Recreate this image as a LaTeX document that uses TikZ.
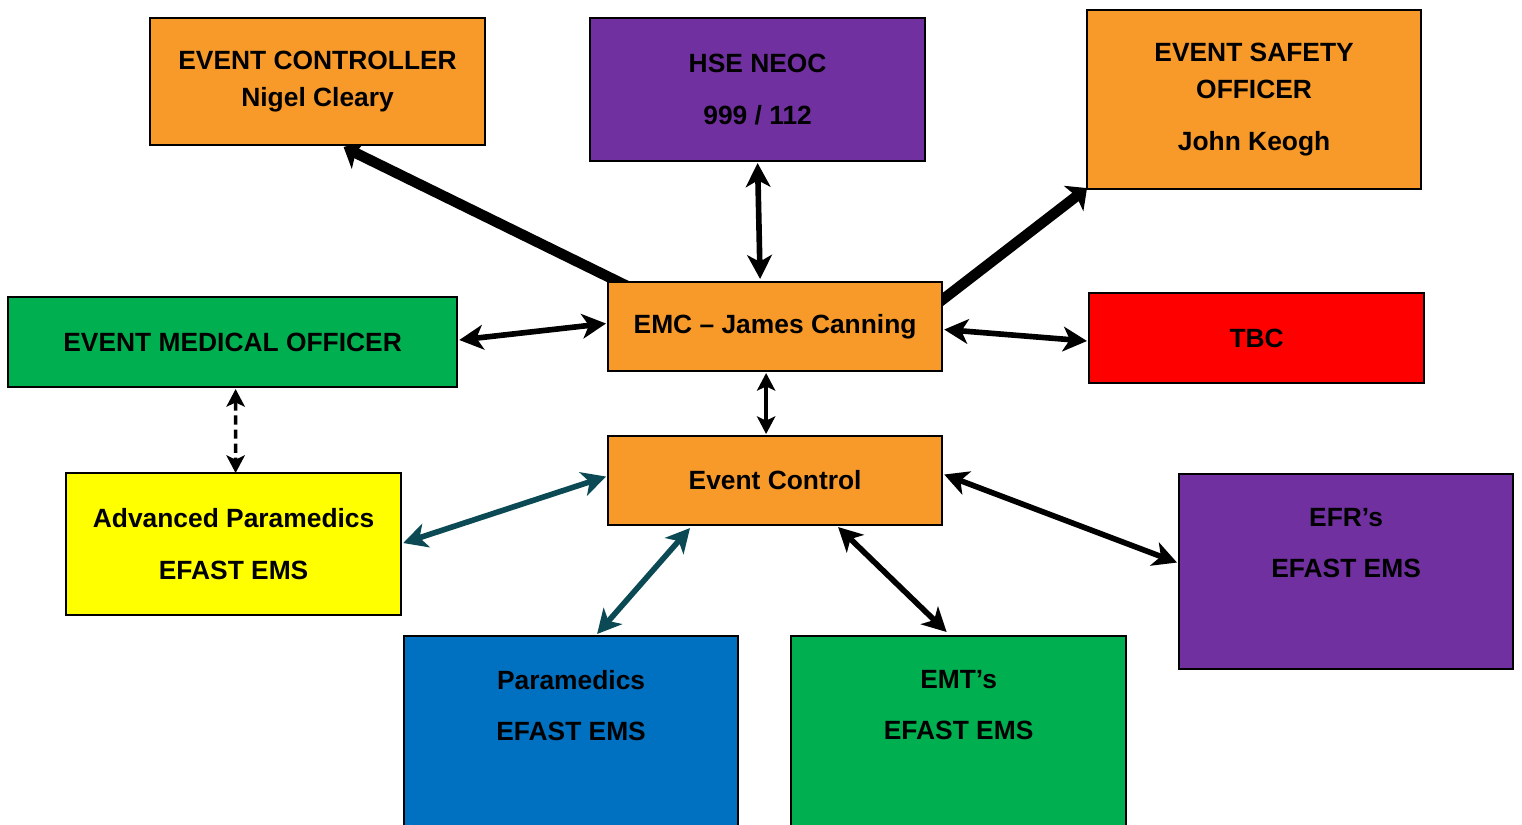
\documentclass[tikz,border=0pt]{standalone}
\usepackage{fontspec}
\setmainfont{Liberation Sans}
\usetikzlibrary{arrows.meta,positioning,calc,backgrounds}

\definecolor{evorange}{HTML}{F79A2A}
\definecolor{evpurple}{HTML}{7030A0}
\definecolor{evgreen}{HTML}{00B050}
\definecolor{evblue}{HTML}{0070C0}
\definecolor{evred}{HTML}{FF0000}
\definecolor{evyellow}{HTML}{FFFF00}
\definecolor{evteal}{HTML}{0B4A55}

\begin{document}
\begin{tikzpicture}[
    x=0.01cm, y=-0.01cm,                  % one unit = one pixel of the sketch
    box/.style={
        rectangle, draw=black, line width=0.6pt,
        inner sep=0pt, outer sep=0pt,
        anchor=north west,
        minimum width=3.35cm,
        minimum height=0.9cm,
        align=center,
        font=\fontsize{7.5}{10.5}\selectfont\bfseries
    },
    boxtext/.style={inner sep=0pt, align=center, font=\fontsize{7.5}{10.5}\selectfont\bfseries},
    heavy/.style={-{Stealth[length=4.8pt,width=9pt,inset=1pt]}, line width=3pt},
    link/.style={{Stealth[length=6.8pt,width=7pt,inset=1.9pt]}-{Stealth[length=6.8pt,width=7pt,inset=1.9pt]}, line width=1.6pt},
    thinlink/.style={{Stealth[length=5pt,width=5.2pt,inset=1.2pt]}-{Stealth[length=5pt,width=5.2pt,inset=1.2pt]}, line width=1.05pt}
]
\useasboundingbox (0,0) rectangle (1522,825);

% --- TOP ROW ---
\node[box, fill=evorange, minimum height=1.27cm] (ec) at (150,18) {EVENT CONTROLLER\\Nigel Cleary};
\node[box, fill=evpurple, minimum height=1.43cm] (hse) at (590,18) {HSE NEOC\\[4.2pt]999 / 112};
\node[box, fill=evorange, minimum width=3.34cm, minimum height=1.79cm] (eso) at (1087,10) {EVENT SAFETY\\OFFICER\\[4.2pt]John Keogh};

% --- MIDDLE ROW ---
\node[box, fill=evgreen, minimum width=4.49cm] (emo) at (8,297) {EVENT MEDICAL OFFICER};
\node[box, fill=evorange, minimum width=3.34cm, minimum height=0.89cm] (emc) at (608,282) {EMC – James Canning};
\node[box, fill=evred] (tbc) at (1089,293) {TBC};

% --- EVENT CONTROL AND TEAMS ---
\node[box, fill=evyellow, minimum height=1.42cm] (adv) at (66,473) {Advanced Paramedics\\[4.2pt]EFAST EMS};
\node[box, fill=evorange, minimum width=3.34cm, minimum height=0.89cm] (ectl) at (608,436) {Event Control};
\node[box, fill=evpurple, minimum width=3.34cm, minimum height=1.95cm] (efr) at (1179,474) {};
\node[box, fill=evblue, minimum width=3.34cm, minimum height=2.3cm] (para) at (404,636) {};
\node[box, fill=evgreen, minimum height=2.3cm] (emt) at (791,636) {};

\node[boxtext, below=0.333cm of efr.north] (efrtxt) {EFR’s\\[4.2pt]EFAST EMS};
\node[boxtext, below=0.333cm of para.north] (paratxt) {Paramedics\\[4.2pt]EFAST EMS};
\node[boxtext, below=0.333cm of emt.north] (emttxt) {EMT’s\\[4.2pt]EFAST EMS};

% --- ARROWS (behind the boxes) ---
\begin{scope}[on background layer]
\draw[heavy] ($(emc.north west)+(19,4)$) -- ($(ec.south)+(26,2)$);
\draw[heavy] ($(emc.north east)+(-4,21)$) -- ($(eso.south west)+(0,-1)$);
\draw[link] ($(hse.south)+(0,2)$) -- ($(emc.north)+(-15,-3)$);
\draw[link] ($(emo.east)+(2,-2)$) -- ($(emc.west)+(-2,-3)$);
\draw[link] ($(emc.east)+(2,3)$) -- ($(tbc.west)+(-2,3)$);
\draw[thinlink] ($(emc.south)+(-9,2)$) -- ($(ectl.north)+(-9,-2)$);
\draw[thinlink, dash pattern=on 2.6pt off 1.4pt] ($(emo.south)+(3,2)$) -- ($(adv.north)+(2,0)$);
\draw[link, evteal] ($(ectl.west)+(-2,-4)$) -- ($(adv.east)+(2,-1)$);
\draw[link, evteal] ($(ectl.south west)+(82,3)$) -- ($(para.north)+(26,-2)$);
\draw[link] ($(ectl.south)+(63,2)$) -- ($(emt.north)+(-12,-4)$);
\draw[link] ($(ectl.east)+(2,-6)$) -- ($(efr.west)+(-2,-9)$);
\end{scope}

\end{tikzpicture}
\end{document}
